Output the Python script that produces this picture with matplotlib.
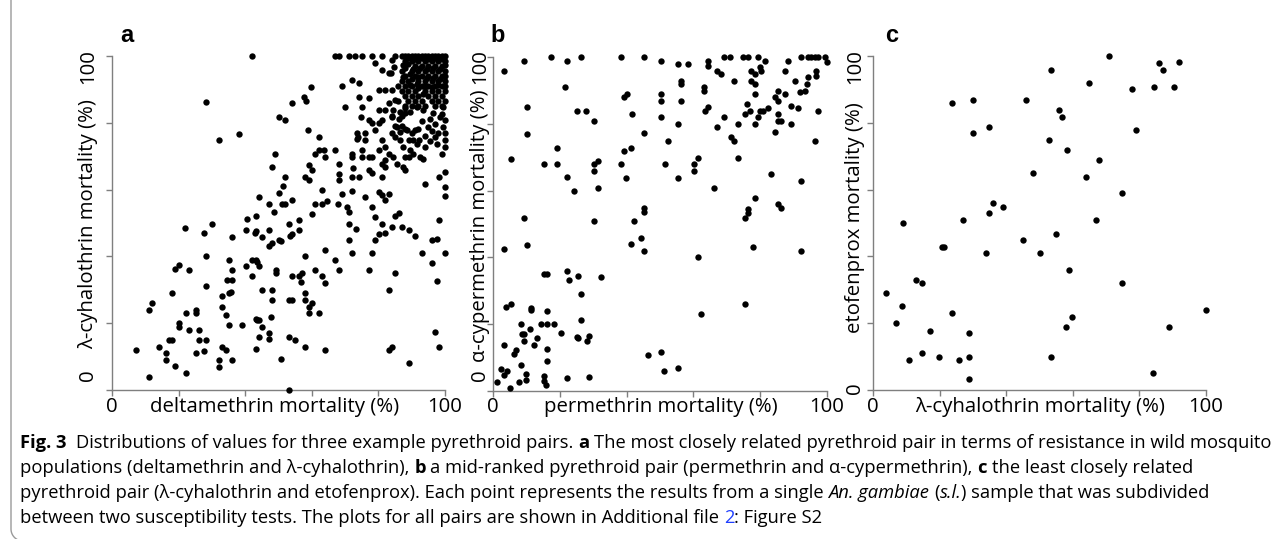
import matplotlib
matplotlib.use('Agg')
import matplotlib.pyplot as plt
from matplotlib.lines import Line2D
import numpy as np

W, H = 1287, 539

# 数据：每个点 = (x 死亡率 %, y 死亡率 %)
# a: deltamethrin vs λ-cyhalothrin
delta_lambda = np.array([
    (7.1, 12.0), (11.1, 4.0), (11.1, 24.0), (12.1, 26.0), (14.1, 13.0), (16.1, 11.0), (16.1, 9.0), (17.1, 15.0),
    (18.1, 15.0), (18.1, 29.0), (18.9, 7.2), (18.9, 36.2), (20.1, 37.4), (20.1, 20.0), (20.1, 19.0), (22.1, 23.0),
    (22.1, 5.0), (23.1, 36.0), (23.1, 18.0), (25.1, 24.0), (25.1, 23.0), (25.1, 11.0), (26.1, 18.0), (26.1, 15.0),
    (27.6, 11.7), (28.1, 40.0), (28.1, 31.0), (28.1, 15.0), (32.1, 9.0), (32.1, 7.0), (33.1, 28.0), (33.1, 25.0),
    (33.1, 13.0), (34.1, 12.0), (34.1, 22.4), (35.1, 29.0), (35.6, 29.2), (34.6, 33.0), (36.1, 33.0), (35.1, 39.0),
    (36.1, 36.0), (35.1, 19.4), (36.1, 9.0), (38.9, 19.5), (40.2, 37.0), (42.1, 34.0), (42.1, 39.0), (43.1, 39.0),
    (43.6, 38.4), (44.1, 37.0), (43.1, 21.2), (43.6, 21.0), (44.1, 21.0), (43.1, 12.2), (44.1, 16.0), (45.1, 30.0),
    (45.1, 19.0), (47.1, 43.0), (48.1, 44.0), (47.1, 17.0), (47.1, 15.4), (47.6, 22.0), (48.1, 30.0), (48.1, 27.0),
    (49.1, 36.0), (49.1, 35.0), (50.7, 44.7), (50.8, 9.4), (53.1, 16.0), (53.1, 0.0), (53.1, 27.0), (54.1, 27.0),
    (53.6, 46.0), (54.1, 34.0), (55.1, 15.0), (56.1, 34.0), (57.1, 35.0), (56.7, 32.4), (58.1, 40.0), (58.1, 29.0),
    (58.1, 27.0), (58.1, 13.0), (59.1, 25.0), (60.1, 26.0), (59.1, 23.0), (61.1, 36.0), (62.1, 23.0), (63.1, 34.0),
    (64.1, 42.0), (64.1, 32.0), (64.1, 12.0), (67.1, 39.0), (68.1, 36.0), (71.1, 45.0), (72.1, 41.0), (77.1, 36.0),
    (78.1, 41.0), (79.1, 45.0), (83.1, 30.0), (83.1, 12.0), (84.1, 13.0), (85.1, 35.0), (89.1, 8.0), (91.1, 46.0),
    (93.1, 41.0), (96.1, 45.0), (97.6, 45.3), (96.1, 38.0), (97.6, 32.5), (97.1, 17.5), (98.1, 13.0), (100.0, 41.0),
    # 上半部分
    (42.0, 100), (28.1, 86.3), (32.1, 74.8), (38.0, 76.6), (21.8, 48.6), (27.5, 47.0), (30.1, 49.8), (36.0, 45.8),
    (40.1, 47.8), (40.6, 51.2), (43.1, 47.6), (42.8, 47.0), (45.1, 45.8), (47.1, 47.8), (43.3, 52.2), (44.1, 57.8),
    (47.1, 55.8), (48.6, 53.4), (48.1, 66.8), (49.0, 70.8), (50.1, 81.8), (52.0, 80.8), (54.0, 85.8), (57.7, 87.8),
    (58.3, 86.6), (59.9, 90.8), (50.1, 59.0), (51.1, 55.8), (52.1, 55.8), (51.3, 61.0), (52.0, 63.8), (54.0, 56.8),
    (53.1, 49.8), (54.0, 46.8), (56.1, 50.8), (56.1, 47.8), (50.1, 45.0),
    (59.0, 77.8), (62.1, 75.8), (59.1, 67.4), (60.1, 65.8), (58.1, 63.8), (59.1, 62.8), (61.0, 70.8), (62.1, 71.8),
    (64.1, 69.8), (63.7, 72.0), (67.0, 71.8), (63.0, 59.8), (61.0, 55.8), (63.0, 55.8), (64.5, 56.6), (60.1, 52.8),
    (67.8, 55.8), (68.3, 67.8), (68.1, 64.8), (68.1, 62.8), (69.1, 91.0), (70.1, 84.8), (69.1, 58.8), (70.5, 54.8),
    (71.3, 53.4), (72.1, 59.6), (72.1, 63.8), (72.5, 66.4), (72.1, 70.8), (72.1, 69.8), (74.1, 63.8), (71.1, 49.8),
    (73.3, 48.2), (72.0, 92.8), (74.1, 91.8), (74.1, 87.8), (75.1, 84.8), (74.7, 81.8), (77.1, 87.4), (73.5, 76.8),
    (74.0, 75.8), (73.5, 75.2), (76.1, 76.8), (76.1, 74.8), (77.1, 80.8), (78.1, 79.8), (79.1, 77.8), (77.1, 69.8),
    (78.1, 69.8), (75.1, 71.8), (75.1, 69.8), (76.1, 57.8), (78.1, 54.8), (77.1, 65.8), (78.1, 65.0), (79.1, 51.8),
    (81.1, 49.8), (81.0, 63.8), (80.1, 46.8), (80.1, 59.3), (81.1, 58.3), (82.1, 56.8), (83.1, 58.8), (85.1, 52.0),
    (86.1, 53.0), (84.1, 48.9), (87.1, 48.8), (89.1, 47.8), (82.1, 47.0), (94.1, 61.8), (98.1, 63.8), (100, 65.2),
    (100, 60.8), (100, 58.2), (98.1, 50.8),
    (80.1, 89.8), (82.1, 89.8), (84.1, 89.8), (85.1, 86.8), (83.1, 85.8), (80.1, 83.8), (82.1, 83.8), (81.1, 80.8),
    (80.1, 79.8), (84.1, 82.0), (85.1, 79.0), (86.1, 81.0), (87.1, 82.0), (88.1, 83.0), (87.1, 79.0), (88.1, 78.0),
    (84.5, 83.8), (86.5, 83.3), (88.0, 84.3), (89.5, 83.3), (91.5, 84.8), (93.5, 83.8), (96.5, 82.8), (98.5, 81.8),
    (100, 80.8), (99.5, 84.8), (85.5, 78.8), (86.5, 77.3), (88.5, 77.8), (90.0, 76.8), (91.0, 77.8), (95.0, 78.8),
    (97.0, 75.8), (98.0, 76.8), (99.5, 78.8), (100, 76.8), (100, 74.8), (86.5, 74.8), (87.5, 72.8), (89.5, 71.8),
    (90.5, 70.8), (92.5, 69.8), (93.5, 69.3), (97.5, 73.8), (99.0, 70.8), (100, 72.8), (84.5, 69.8), (85.5, 67.8),
    (87.5, 66.8), (90.5, 74.8), (91.5, 73.8), (94.0, 72.8), (88.1, 65.8), (88.1, 69.8), (89.1, 69.8), (92.1, 74.8),
    (89.1, 74.8), (83.1, 70.8), (82.1, 72.8), (81.1, 74.8), (80.1, 71.8), (84.1, 81.8), (84.1, 76.8), (85.1, 75.8),
    (81.1, 67.8), (82.1, 66.8), (82.1, 68.8),
    (93.0, 80.5), (95.5, 81.0), (97.0, 79.5), (92.0, 78.0), (94.0, 76.0), (96.0, 77.5), (99.0, 82.5), (95.5, 74.5),
    # 右上角密集区
    (67.1, 100), (68.1, 100), (71.1, 100), (73.1, 100), (75.1, 100), (78.1, 100), (81.1, 100), (85.1, 100),
    (87, 100), (88, 100), (89, 100), (90, 100), (91, 100), (92, 100), (93, 100), (94, 100),
    (95, 100), (96, 100), (97, 100), (98, 100), (99, 100), (100, 100),
    (79.1, 97.8), (81.1, 95.8), (83.1, 94.8), (84.1, 98.8), (84.8, 96.8), (83.8, 94.8),
    (88, 98.5), (90, 98.5), (92, 98.5), (94, 98.5), (96, 98.5), (98, 98.5), (100, 98.5),
    (89, 97.5), (91, 97), (93, 97), (95, 97), (97, 97), (99, 97), (87.5, 97.2),
    (87, 95.5), (90, 95.5), (92, 95.5), (94, 95.5), (96, 95.5), (98, 95.5), (100, 95.5),
    (88, 94), (91, 94), (93, 94), (95, 94), (97, 94), (99, 94), (89.5, 94.5),
    (87, 92.5), (89, 92.5), (92, 92.5), (94, 92.5), (96, 92.5), (98, 92.5), (100, 92.5),
    (86, 91), (88, 91), (90, 91), (93, 91), (95, 91), (97, 91), (99, 91), (91.5, 91.5),
    (87, 89.5), (89, 89.5), (91, 89.5), (94, 89.5), (96, 89.5), (98, 89.5), (100, 89.5),
    (88, 88), (90, 88), (92, 88), (95, 88), (97, 88), (99, 88), (93.5, 88.5),
    (86, 86.5), (89, 86.5), (91, 86.5), (93, 86.5), (96, 86.5), (98, 86.5), (100, 86.5),
    (88, 85), (90, 85), (92, 85), (94, 85), (97, 85), (99, 85),
    (89, 99.3), (91, 99.2), (93, 99.3), (95, 99.2), (97, 99.3), (99, 99.2),
    (88, 96.3), (90.5, 96.2), (92.5, 96.3), (94.5, 96.2), (96.5, 96.3), (98.5, 96.2), (100, 97.2),
    (87.5, 93.6), (90, 93.2), (92, 93.6), (94.5, 93.3), (96.5, 93.5), (98.5, 93.2), (100, 94.0),
    (89.5, 91.3), (92, 90.5), (94, 91.0), (96, 90.6), (98, 91.2), (100, 91.0),
])

# b: permethrin vs α-cypermethrin
perm_alpha = np.array([
    (3.3, 95.9), (9.3, 98.9), (10.3, 84.9), (10.3, 76.9), (5.3, 69.4), (9.3, 51.9), (17.3, 100), (22.3, 98.9),
    (26.3, 100), (21.5, 90.9), (25.2, 83.9), (27.8, 83.9), (30.3, 80.9), (19.3, 72.9), (15.3, 67.9), (19.3, 67.9),
    (22.3, 64.2), (24.3, 59.9), (30.3, 67.9), (31.3, 68.9), (30.3, 65.9), (31.3, 60.9), (30.3, 50.9), (38.3, 100),
    (38.3, 67.9), (39.3, 71.9), (41.3, 72.9), (39.8, 63.9), (39.2, 87.9), (40.2, 88.9), (41.7, 82.9), (45.2, 100),
    (45.2, 77.2), (45.2, 54.9), (45.2, 53.7), (42.3, 50.9), (44.2, 45.9), (50.3, 98.9), (50.3, 88.9), (50.3, 86.9),
    (50.3, 81.9), (52.3, 74.9), (51.5, 67.9), (55.3, 97.9), (58.3, 97.9), (56.3, 92.9), (56.3, 91.9), (56.3, 86.9),
    (55.3, 79.9), (55.3, 63.9), (61.3, 69.9), (60.3, 67.9), (60.3, 65.9), (64.3, 98.9), (64.3, 97.4), (63.3, 90.9),
    (63.3, 89.9), (64.3, 84.9), (63.5, 83.9), (66.3, 60.9), (67.2, 95.9), (68.3, 94.9), (69.2, 100), (71.0, 100),
    (72.3, 92.9), (67.2, 78.9), (69.3, 81.9), (71.3, 75.9), (72.3, 74.9), (73.3, 79.9), (73.3, 69.9), (74.8, 100),
    (76.3, 100), (79.3, 100), (81.3, 98.9), (77.3, 95.9), (78.3, 94.9), (79.8, 96.9), (80.3, 95.9), (77.3, 92.9),
    (78.3, 91.9), (78.3, 88.9), (75.9, 85.9), (76.8, 83.9), (75.3, 82.9), (79.8, 83.9), (80.8, 83.9), (82.3, 84.6),
    (79.3, 81.9), (78.3, 79.9), (83.3, 64.9), (78.3, 57.9), (76.3, 54.4), (76.3, 53.4), (75.3, 51.9), (85.2, 55.9),
    (86.3, 54.9), (84.3, 87.9), (85.3, 86.9), (85.3, 89.9), (87.3, 88.9), (85.3, 82.9), (85.3, 80.9), (86.3, 80.9),
    (84.3, 77.6), (87.3, 95.9), (88.3, 98.9), (89.3, 85.4), (89.3, 79.9), (90.3, 92.9), (91.3, 84.6), (92.3, 62.9),
    (92.3, 100), (92.0, 89.5), (93.3, 89.9), (94.3, 93.9), (94.0, 91.9), (94.3, 100), (95.3, 100), (96.3, 100),
    (97.3, 100), (99.3, 100), (100, 98.5), (96.8, 95.9), (96.8, 94.4), (97.3, 83.9), (96.3, 74.9),
    (3.3, 42.5), (10.3, 43.6), (41.3, 44.0), (45.3, 42.0), (61.5, 40.0), (77.8, 43.0), (92.3, 42.0), (15.3, 35.0),
    (16.3, 35.0), (22.3, 36.0), (22.8, 33.2), (25.3, 34.4), (32.3, 34.0), (26.3, 29.0), (3.8, 25.2), (5.3, 26.0),
    (11.3, 25.0), (11.3, 24.2), (16.3, 24.0), (62.3, 23.0), (75.3, 26.0), (26.3, 21.4), (8.3, 20.0), (14.3, 20.0),
    (16.3, 20.0), (18.3, 20.0), (20.3, 17.3), (8.8, 17.2), (9.3, 17.0), (11.0, 18.5), (13.3, 16.0), (25.1, 16.3),
    (25.3, 16.0), (28.7, 16.6), (28.2, 15.0), (9.3, 15.0), (12.3, 13.9), (3.3, 13.9), (6.8, 12.2), (6.3, 11.0),
    (16.3, 12.6), (16.3, 9.1), (8.3, 7.9), (2.3, 6.7), (4.3, 5.9), (3.3, 4.9), (9.8, 5.1), (10.0, 3.2),
    (7.8, 2.7), (1.3, 2.6), (5.0, 0.9), (15.3, 4.4), (15.3, 3.0), (15.8, 1.7), (22.3, 3.9), (28.6, 4.2),
    (46.3, 10.7), (50.3, 11.8), (51.3, 5.9), (55.3, 6.9),
])

# c: λ-cyhalothrin vs etofenprox
lambda_etof = np.array([
    (9.0, 49.9), (23.8, 85.8), (29.9, 86.8), (29.9, 76.8), (34.8, 78.8), (26.9, 50.9), (36.0, 55.9), (34.7, 53.1),
    (39.0, 54.9), (45.0, 45.0), (45.9, 86.8), (47.9, 64.9), (53.4, 95.8), (53.0, 74.9), (54.9, 46.6), (55.9, 83.8),
    (56.9, 81.8), (58.4, 71.9), (64.0, 63.9), (64.9, 91.8), (66.9, 50.9), (67.9, 68.9), (70.9, 100), (74.9, 58.9),
    (77.8, 90.2), (79.0, 77.8), (84.4, 90.8), (85.9, 97.8), (87.0, 95.8), (90.5, 90.8), (92.0, 98.2),
    (3.8, 28.9), (6.8, 20.0), (8.8, 25.2), (10.8, 9.0), (12.8, 32.9), (14.8, 31.9), (14.8, 11.0), (17.2, 17.7),
    (19.8, 10.0), (20.8, 42.9), (21.3, 42.7), (23.8, 23.0), (25.9, 9.0), (28.9, 17.0), (28.9, 10.0), (28.7, 3.3),
    (33.9, 40.9), (50.0, 40.9), (53.6, 9.8), (57.9, 19.0), (59.0, 35.9), (59.9, 22.0), (74.9, 31.9), (84.0, 5.0),
    (89.0, 19.0), (100, 24.0),
])

x_names = ['deltamethrin mortality (%)', 'permethrin mortality (%)', 'λ-cyhalothrin mortality (%)']
y_names = ['λ-cyhalothrin mortality (%)', 'α-cypermethrin mortality (%)', 'etofenprox mortality (%)']
letters = ['a', 'b', 'c']
tick_vals = [0, 20, 40, 60, 80, 100]

# 像素布局 (left, top, right, bottom)
boxes = [(112, 56, 445, 390), (493, 57, 827, 391), (873, 56, 1206, 390)]
ylab_x = [88, 480, 855]
ylab_mid = [224, 226, 218]
yzero_y = [375, 375, 388]
xlab_mid = [275, 661, 1040]
letter_x = [120, 490, 885]

axis_font = ['Open Sans', 'DejaVu Sans']
axis_size = 14.7
cap_font = ['Open Sans', 'DejaVu Sans']
grey = '#7f7f7f'


def fx(px):
    return px / W


def fy(py):
    return 1 - py / H


fig = plt.figure(figsize=(W / 100, H / 100), dpi=100)
fig.patch.set_facecolor('white')

for i, pts in enumerate([delta_lambda, perm_alpha, lambda_etof]):
    l, t, r, b = boxes[i]
    ax = fig.add_axes([fx(l), fy(b), (r - l) / W, (b - t) / H])
    ax.scatter(pts[:, 0], pts[:, 1], s=21, c='black', linewidths=0, clip_on=False, zorder=3)
    ax.set_xlim(0, 100)
    ax.set_ylim(0, 100)
    ax.set_xticks(tick_vals)
    ax.set_yticks(tick_vals)
    ax.set_xticklabels([])
    ax.set_yticklabels([])
    for s in ['top', 'right']:
        ax.spines[s].set_visible(False)
    for s in ['left', 'bottom']:
        ax.spines[s].set_color(grey)
        ax.spines[s].set_linewidth(1.0)
    ax.tick_params(direction='out', length=4, width=1.0, color=grey)
    ax.patch.set_alpha(0)

    # x 轴文字：0, 名称, 100 在同一行
    fig.text(fx(l), fy(407), '0', ha='center', va='center', fontsize=axis_size, family=axis_font)
    fig.text(fx(xlab_mid[i]), fy(407), x_names[i], ha='center', va='center', fontsize=axis_size,
             family=axis_font)
    fig.text(fx(r), fy(407), '100', ha='center', va='center', fontsize=axis_size, family=axis_font)
    # y 轴文字（旋转）
    fig.text(fx(ylab_x[i]), fy(67), '100', ha='center', va='center', rotation=90, fontsize=axis_size,
             family=axis_font)
    fig.text(fx(ylab_x[i]), fy(ylab_mid[i]), y_names[i], ha='center', va='center', rotation=90,
             fontsize=axis_size, family=axis_font)
    fig.text(fx(ylab_x[i]), fy(yzero_y[i]), '0', ha='center', va='center', rotation=90, fontsize=axis_size,
             family=axis_font)
    fig.text(fx(letter_x[i]), fy(42), letters[i], ha='left', va='baseline', fontsize=17, fontweight='bold',
             family=['Liberation Sans', 'DejaVu Sans'])

# 图注
B = {'fontweight': 'bold'}
N = {}
I = {'style': 'italic'}
BL = {'color': '#1f3fff'}
cap_lines = [
    [('Fig. 3', B), ('  Distributions of values for three example pyrethroid pairs. ', N), ('a', B),
     (' The most closely related pyrethroid pair in terms of resistance in wild mosquito', N)],
    [('populations (deltamethrin and λ-cyhalothrin), ', N), ('b', B),
     (' a mid-ranked pyrethroid pair (permethrin and α-cypermethrin), ', N), ('c', B),
     (' the least closely related', N)],
    [('pyrethroid pair (λ-cyhalothrin and etofenprox). Each point represents the results from a single ', N),
     ('An. gambiae', I), (' (', N), ('s.l.', I), (') sample that was subdivided', N)],
    [('between two susceptibility tests. The plots for all pairs are shown in Additional file ', N), ('2', BL),
     (': Figure S2', N)],
]
cap_base = [448, 473, 498, 523]

renderer = fig.canvas.get_renderer()


def text_width(s, size, **kw):
    tt = fig.text(0, 0, s, fontsize=size, family=cap_font, **kw)
    w = tt.get_window_extent(renderer=renderer).width
    tt.remove()
    return w


def draw_line(runs, yb, size, draw=True):
    space_w = text_width('a a', size) - text_width('aa', size)
    x = 20.0
    for s, kw in runs:
        core = s.strip(' ')
        x += (len(s) - len(s.lstrip(' '))) * space_w
        if core:
            if draw:
                fig.text(fx(x), fy(yb), core, ha='left', va='baseline', fontsize=size, family=cap_font, **kw)
            x += text_width(core, size, **kw)
        x += (len(s) - len(s.rstrip(' '))) * space_w
    return x


# 让第一行宽度与原图一致（约到 1270 px）
cap_size = 10.0 * (1268 - 20) / (draw_line(cap_lines[0], 0, 10.0, draw=False) - 20)
for runs, yb in zip(cap_lines, cap_base):
    draw_line(runs, yb, cap_size)

# 左侧圆角边框线
ang = np.linspace(np.pi, 1.5 * np.pi, 20)
rad = 12
bx = [11.0, 11.0] + list(11 + rad + rad * np.cos(ang))
by = [0, 529] + list(529 - rad * np.sin(ang))
fig.add_artist(Line2D([fx(v) for v in bx], [fy(v) for v in by], color='#9a9a9a', linewidth=1.0,
                      transform=fig.transFigure))

fig.savefig('out.png', dpi=100)
